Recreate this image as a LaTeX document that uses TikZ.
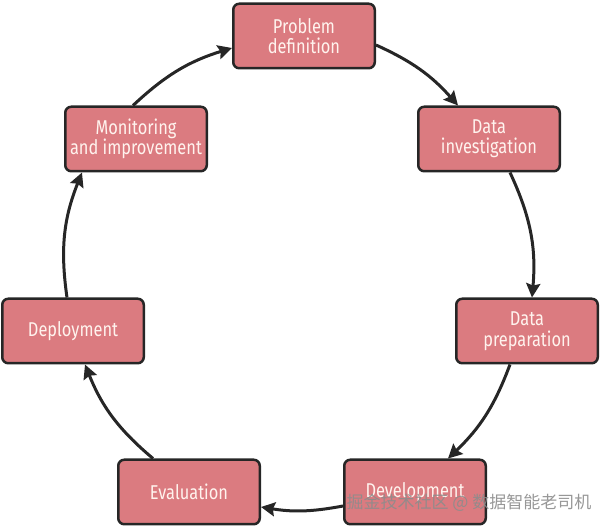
\documentclass[tikz,border=0pt]{standalone}
\usepackage{fontspec}
\newfontfamily\stagefont[FakeStretch=0.82]{Fira Sans}
\newfontfamily\markfont{Noto Sans CJK SC}
\usetikzlibrary{arrows.meta}
\definecolor{stagefill}{HTML}{DB7B80}
\definecolor{stagetext}{HTML}{FFF3EE}
\tikzset{
  stage/.style={draw=black!85, line width=2.5pt, fill=stagefill, rounded corners=6pt,
    minimum width=141.5pt, minimum height=64.5pt, align=center, text=stagetext,
    font=\stagefont\fontsize{20}{20.5}\selectfont},
  flow/.style={line width=3pt, draw=black!85, -{Stealth[length=14pt,width=14pt,inset=2pt]}},
}

\begin{document}
\begin{tikzpicture}[x=1pt, y=1pt]
  \useasboundingbox (0,0) rectangle (600,529);

  % Stages of the cycle
  \node[stage] (prob) at (304,493) {Problem\\definition};
  \node[stage] (inv) at (489,390) {Data\\investigation};
  \node[stage] (prep) at (527,198) {Data\\preparation};
  \node[stage] (dev) at (415,37) {Development};
  \node[stage] (eval) at (189,37) {Evaluation};
  \node[stage] (depl) at (73,198) {Deployment};
  \node[stage] (mon) at (136,390) {Monitoring\\and improvement};

  % Arrows round the circle
  \draw[flow] ([yshift=-9pt]prob.east) to[bend left=12] ([xshift=-31pt]inv.north);
  \draw[flow] ([xshift=21pt]inv.south) to[bend left=15] ([xshift=5pt]prep.north);
  \draw[flow] ([xshift=-17pt]prep.south) to[bend left=13] ([xshift=33pt]dev.north);
  \draw[flow] ([yshift=-14pt]dev.west) to[bend left=10] ([yshift=-15pt]eval.east);
  \draw[flow] ([xshift=-36pt]eval.north) to[bend left=14] ([xshift=12pt]depl.south);
  \draw[flow] ([xshift=-6pt]depl.north) to[bend left=15] ([xshift=-54pt]mon.south);
  \draw[flow] ([xshift=-3pt]mon.north) to[bend left=13] ([yshift=-12pt]prob.west);

  % Watermark
  \node[font=\markfont\fontsize{17}{17}\selectfont, text=black!45, opacity=0.9] (mark)
    at (469,26) {掘金技术社区 @ 数据智能老司机};
\end{tikzpicture}
\end{document}
